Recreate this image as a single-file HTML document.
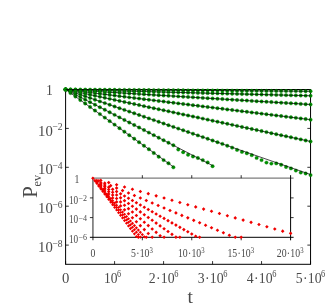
<!DOCTYPE html>
<html><head><meta charset="utf-8"><title>chart</title>
<style>html,body{margin:0;padding:0;background:#fff;width:332px;height:307px;overflow:hidden}body{position:relative;font-family:"Liberation Serif",serif}</style>
</head><body>
<svg width="332" height="307" viewBox="0 0 332 307" style="position:absolute;left:0;top:0;will-change:transform" font-family="Liberation Serif, serif" fill="#4a4a4a">
<rect width="332" height="307" fill="#fff"/>
<rect x="65.6" y="89.5" width="244.95000000000002" height="174.8" fill="none" stroke="#000" stroke-width="1"/>
<path d="M65.6 89.50h3.2M310.55 89.50h-3.2M65.6 128.40h3.2M310.55 128.40h-3.2M65.6 167.30h3.2M310.55 167.30h-3.2M65.6 206.20h3.2M310.55 206.20h-3.2M65.6 245.10h3.2M310.55 245.10h-3.2M65.60 264.3v-3.2M65.60 89.5v3.2M114.59 264.3v-3.2M114.59 89.5v3.2M163.58 264.3v-3.2M163.58 89.5v3.2M212.57 264.3v-3.2M212.57 89.5v3.2M261.56 264.3v-3.2M261.56 89.5v3.2M310.55 264.3v-3.2M310.55 89.5v3.2" stroke="#000" stroke-width="0.8" fill="none"/>
<g fill="#009400" stroke="#007000" stroke-width="0.35"><circle cx="65.60" cy="89.50" r="1.72"/><circle cx="70.50" cy="93.02" r="1.72"/><circle cx="75.40" cy="96.53" r="1.72"/><circle cx="80.30" cy="100.05" r="1.72"/><circle cx="85.20" cy="103.56" r="1.72"/><circle cx="90.09" cy="107.08" r="1.72"/><circle cx="94.99" cy="110.59" r="1.72"/><circle cx="99.89" cy="114.11" r="1.72"/><circle cx="104.79" cy="117.62" r="1.72"/><circle cx="109.69" cy="121.14" r="1.72"/><circle cx="114.59" cy="124.65" r="1.72"/><circle cx="119.49" cy="128.17" r="1.72"/><circle cx="124.39" cy="131.68" r="1.72"/><circle cx="129.29" cy="135.20" r="1.72"/><circle cx="134.19" cy="138.71" r="1.72"/><circle cx="139.08" cy="142.23" r="1.72"/><circle cx="143.98" cy="145.74" r="1.72"/><circle cx="148.88" cy="149.26" r="1.72"/><circle cx="153.78" cy="153.07" r="1.72"/><circle cx="158.68" cy="156.69" r="1.72"/><circle cx="163.58" cy="160.10" r="1.72"/><circle cx="168.48" cy="163.32" r="1.72"/><circle cx="173.38" cy="167.33" r="1.72"/></g>
<path d="M65.60 89.50L173.38 166.83" stroke="#000" stroke-width="0.7" fill="none"/>
<g fill="#009400" stroke="#007000" stroke-width="0.35"><circle cx="65.60" cy="89.50" r="1.72"/><circle cx="70.50" cy="92.04" r="1.72"/><circle cx="75.40" cy="94.57" r="1.72"/><circle cx="80.30" cy="97.11" r="1.72"/><circle cx="85.20" cy="99.64" r="1.72"/><circle cx="90.09" cy="102.18" r="1.72"/><circle cx="94.99" cy="104.72" r="1.72"/><circle cx="99.89" cy="107.25" r="1.72"/><circle cx="104.79" cy="109.79" r="1.72"/><circle cx="109.69" cy="112.33" r="1.72"/><circle cx="114.59" cy="114.86" r="1.72"/><circle cx="119.49" cy="117.40" r="1.72"/><circle cx="124.39" cy="119.93" r="1.72"/><circle cx="129.29" cy="122.47" r="1.72"/><circle cx="134.19" cy="125.01" r="1.72"/><circle cx="139.08" cy="127.54" r="1.72"/><circle cx="143.98" cy="130.08" r="1.72"/><circle cx="148.88" cy="132.62" r="1.72"/><circle cx="153.78" cy="135.15" r="1.72"/><circle cx="158.68" cy="137.69" r="1.72"/><circle cx="163.58" cy="140.22" r="1.72"/><circle cx="168.48" cy="142.76" r="1.72"/><circle cx="173.38" cy="145.30" r="1.72"/><circle cx="178.28" cy="149.53" r="1.72"/><circle cx="183.18" cy="152.17" r="1.72"/><circle cx="188.07" cy="154.81" r="1.72"/><circle cx="192.97" cy="156.44" r="1.72"/><circle cx="197.87" cy="157.98" r="1.72"/><circle cx="202.77" cy="160.11" r="1.72"/><circle cx="207.67" cy="162.45" r="1.72"/><circle cx="212.57" cy="166.19" r="1.72"/></g>
<path d="M65.60 89.50L212.57 165.59" stroke="#000" stroke-width="0.7" fill="none"/>
<g fill="#009400" stroke="#007000" stroke-width="0.35"><circle cx="65.60" cy="89.50" r="1.72"/><circle cx="70.50" cy="91.20" r="1.72"/><circle cx="75.40" cy="92.90" r="1.72"/><circle cx="80.30" cy="94.60" r="1.72"/><circle cx="85.20" cy="96.30" r="1.72"/><circle cx="90.09" cy="98.00" r="1.72"/><circle cx="94.99" cy="99.70" r="1.72"/><circle cx="99.89" cy="101.40" r="1.72"/><circle cx="104.79" cy="103.10" r="1.72"/><circle cx="109.69" cy="104.80" r="1.72"/><circle cx="114.59" cy="106.50" r="1.72"/><circle cx="119.49" cy="108.20" r="1.72"/><circle cx="124.39" cy="109.90" r="1.72"/><circle cx="129.29" cy="111.60" r="1.72"/><circle cx="134.19" cy="113.30" r="1.72"/><circle cx="139.08" cy="115.00" r="1.72"/><circle cx="143.98" cy="116.70" r="1.72"/><circle cx="148.88" cy="118.40" r="1.72"/><circle cx="153.78" cy="120.10" r="1.72"/><circle cx="158.68" cy="121.80" r="1.72"/><circle cx="163.58" cy="123.50" r="1.72"/><circle cx="168.48" cy="125.20" r="1.72"/><circle cx="173.38" cy="126.90" r="1.72"/><circle cx="178.28" cy="128.60" r="1.72"/><circle cx="183.18" cy="130.30" r="1.72"/><circle cx="188.07" cy="132.00" r="1.72"/><circle cx="192.97" cy="133.70" r="1.72"/><circle cx="197.87" cy="135.40" r="1.72"/><circle cx="202.77" cy="137.10" r="1.72"/><circle cx="207.67" cy="138.80" r="1.72"/><circle cx="212.57" cy="140.50" r="1.72"/><circle cx="217.47" cy="142.20" r="1.72"/><circle cx="222.37" cy="143.90" r="1.72"/><circle cx="227.27" cy="145.80" r="1.72"/><circle cx="232.17" cy="147.65" r="1.72"/><circle cx="237.06" cy="149.90" r="1.72"/><circle cx="241.96" cy="151.90" r="1.72"/><circle cx="246.86" cy="153.30" r="1.72"/><circle cx="251.76" cy="155.15" r="1.72"/><circle cx="256.66" cy="157.90" r="1.72"/><circle cx="261.56" cy="160.10" r="1.72"/><circle cx="266.46" cy="162.60" r="1.72"/><circle cx="271.36" cy="163.60" r="1.72"/><circle cx="276.26" cy="163.40" r="1.72"/><circle cx="281.16" cy="164.80" r="1.72"/><circle cx="286.06" cy="167.00" r="1.72"/><circle cx="290.95" cy="168.40" r="1.72"/><circle cx="295.85" cy="170.60" r="1.72"/><circle cx="300.75" cy="172.60" r="1.72"/><circle cx="305.65" cy="173.45" r="1.72"/><circle cx="310.55" cy="175.10" r="1.72"/></g>
<path d="M65.60 89.50L310.55 174.50" stroke="#000" stroke-width="0.7" fill="none"/>
<g fill="#009400" stroke="#007000" stroke-width="0.35"><circle cx="65.60" cy="89.50" r="1.72"/><circle cx="70.50" cy="90.54" r="1.72"/><circle cx="75.40" cy="91.58" r="1.72"/><circle cx="80.30" cy="92.62" r="1.72"/><circle cx="85.20" cy="93.66" r="1.72"/><circle cx="90.09" cy="94.70" r="1.72"/><circle cx="94.99" cy="95.74" r="1.72"/><circle cx="99.89" cy="96.78" r="1.72"/><circle cx="104.79" cy="97.82" r="1.72"/><circle cx="109.69" cy="98.86" r="1.72"/><circle cx="114.59" cy="99.90" r="1.72"/><circle cx="119.49" cy="100.94" r="1.72"/><circle cx="124.39" cy="101.97" r="1.72"/><circle cx="129.29" cy="103.01" r="1.72"/><circle cx="134.19" cy="104.05" r="1.72"/><circle cx="139.08" cy="105.09" r="1.72"/><circle cx="143.98" cy="106.13" r="1.72"/><circle cx="148.88" cy="107.17" r="1.72"/><circle cx="153.78" cy="108.21" r="1.72"/><circle cx="158.68" cy="109.25" r="1.72"/><circle cx="163.58" cy="110.29" r="1.72"/><circle cx="168.48" cy="111.33" r="1.72"/><circle cx="173.38" cy="112.37" r="1.72"/><circle cx="178.28" cy="113.41" r="1.72"/><circle cx="183.18" cy="114.45" r="1.72"/><circle cx="188.07" cy="115.49" r="1.72"/><circle cx="192.97" cy="116.53" r="1.72"/><circle cx="197.87" cy="117.57" r="1.72"/><circle cx="202.77" cy="118.61" r="1.72"/><circle cx="207.67" cy="119.65" r="1.72"/><circle cx="212.57" cy="120.69" r="1.72"/><circle cx="217.47" cy="121.73" r="1.72"/><circle cx="222.37" cy="122.77" r="1.72"/><circle cx="227.27" cy="123.81" r="1.72"/><circle cx="232.17" cy="124.85" r="1.72"/><circle cx="237.06" cy="125.88" r="1.72"/><circle cx="241.96" cy="126.92" r="1.72"/><circle cx="246.86" cy="127.96" r="1.72"/><circle cx="251.76" cy="129.00" r="1.72"/><circle cx="256.66" cy="130.04" r="1.72"/><circle cx="261.56" cy="131.08" r="1.72"/><circle cx="266.46" cy="132.12" r="1.72"/><circle cx="271.36" cy="133.16" r="1.72"/><circle cx="276.26" cy="134.20" r="1.72"/><circle cx="281.16" cy="135.24" r="1.72"/><circle cx="286.06" cy="136.28" r="1.72"/><circle cx="290.95" cy="137.32" r="1.72"/><circle cx="295.85" cy="138.36" r="1.72"/><circle cx="300.75" cy="139.40" r="1.72"/><circle cx="305.65" cy="140.44" r="1.72"/><circle cx="310.55" cy="141.48" r="1.72"/></g>
<path d="M65.60 89.50L310.55 141.48" stroke="#000" stroke-width="0.7" fill="none"/>
<g fill="#009400" stroke="#007000" stroke-width="0.35"><circle cx="65.60" cy="89.50" r="1.72"/><circle cx="70.50" cy="90.10" r="1.72"/><circle cx="75.40" cy="90.71" r="1.72"/><circle cx="80.30" cy="91.31" r="1.72"/><circle cx="85.20" cy="91.91" r="1.72"/><circle cx="90.09" cy="92.52" r="1.72"/><circle cx="94.99" cy="93.12" r="1.72"/><circle cx="99.89" cy="93.72" r="1.72"/><circle cx="104.79" cy="94.33" r="1.72"/><circle cx="109.69" cy="94.93" r="1.72"/><circle cx="114.59" cy="95.54" r="1.72"/><circle cx="119.49" cy="96.14" r="1.72"/><circle cx="124.39" cy="96.74" r="1.72"/><circle cx="129.29" cy="97.35" r="1.72"/><circle cx="134.19" cy="97.95" r="1.72"/><circle cx="139.08" cy="98.55" r="1.72"/><circle cx="143.98" cy="99.16" r="1.72"/><circle cx="148.88" cy="99.76" r="1.72"/><circle cx="153.78" cy="100.36" r="1.72"/><circle cx="158.68" cy="100.97" r="1.72"/><circle cx="163.58" cy="101.57" r="1.72"/><circle cx="168.48" cy="102.17" r="1.72"/><circle cx="173.38" cy="102.78" r="1.72"/><circle cx="178.28" cy="103.38" r="1.72"/><circle cx="183.18" cy="103.99" r="1.72"/><circle cx="188.07" cy="104.59" r="1.72"/><circle cx="192.97" cy="105.19" r="1.72"/><circle cx="197.87" cy="105.80" r="1.72"/><circle cx="202.77" cy="106.40" r="1.72"/><circle cx="207.67" cy="107.00" r="1.72"/><circle cx="212.57" cy="107.61" r="1.72"/><circle cx="217.47" cy="108.21" r="1.72"/><circle cx="222.37" cy="108.81" r="1.72"/><circle cx="227.27" cy="109.42" r="1.72"/><circle cx="232.17" cy="110.02" r="1.72"/><circle cx="237.06" cy="110.62" r="1.72"/><circle cx="241.96" cy="111.23" r="1.72"/><circle cx="246.86" cy="111.83" r="1.72"/><circle cx="251.76" cy="112.44" r="1.72"/><circle cx="256.66" cy="113.04" r="1.72"/><circle cx="261.56" cy="113.64" r="1.72"/><circle cx="266.46" cy="114.25" r="1.72"/><circle cx="271.36" cy="114.85" r="1.72"/><circle cx="276.26" cy="115.45" r="1.72"/><circle cx="281.16" cy="116.06" r="1.72"/><circle cx="286.06" cy="116.66" r="1.72"/><circle cx="290.95" cy="117.26" r="1.72"/><circle cx="295.85" cy="117.87" r="1.72"/><circle cx="300.75" cy="118.47" r="1.72"/><circle cx="305.65" cy="119.07" r="1.72"/><circle cx="310.55" cy="119.68" r="1.72"/></g>
<path d="M65.60 89.50L310.55 119.68" stroke="#000" stroke-width="0.7" fill="none"/>
<g fill="#009400" stroke="#007000" stroke-width="0.35"><circle cx="65.60" cy="89.50" r="1.72"/><circle cx="70.50" cy="89.80" r="1.72"/><circle cx="75.40" cy="90.10" r="1.72"/><circle cx="80.30" cy="90.40" r="1.72"/><circle cx="85.20" cy="90.70" r="1.72"/><circle cx="90.09" cy="91.00" r="1.72"/><circle cx="94.99" cy="91.30" r="1.72"/><circle cx="99.89" cy="91.60" r="1.72"/><circle cx="104.79" cy="91.90" r="1.72"/><circle cx="109.69" cy="92.20" r="1.72"/><circle cx="114.59" cy="92.50" r="1.72"/><circle cx="119.49" cy="92.80" r="1.72"/><circle cx="124.39" cy="93.10" r="1.72"/><circle cx="129.29" cy="93.40" r="1.72"/><circle cx="134.19" cy="93.70" r="1.72"/><circle cx="139.08" cy="94.00" r="1.72"/><circle cx="143.98" cy="94.30" r="1.72"/><circle cx="148.88" cy="94.60" r="1.72"/><circle cx="153.78" cy="94.90" r="1.72"/><circle cx="158.68" cy="95.20" r="1.72"/><circle cx="163.58" cy="95.50" r="1.72"/><circle cx="168.48" cy="95.80" r="1.72"/><circle cx="173.38" cy="96.10" r="1.72"/><circle cx="178.28" cy="96.40" r="1.72"/><circle cx="183.18" cy="96.70" r="1.72"/><circle cx="188.07" cy="97.00" r="1.72"/><circle cx="192.97" cy="97.30" r="1.72"/><circle cx="197.87" cy="97.60" r="1.72"/><circle cx="202.77" cy="97.89" r="1.72"/><circle cx="207.67" cy="98.19" r="1.72"/><circle cx="212.57" cy="98.49" r="1.72"/><circle cx="217.47" cy="98.79" r="1.72"/><circle cx="222.37" cy="99.09" r="1.72"/><circle cx="227.27" cy="99.39" r="1.72"/><circle cx="232.17" cy="99.69" r="1.72"/><circle cx="237.06" cy="99.99" r="1.72"/><circle cx="241.96" cy="100.29" r="1.72"/><circle cx="246.86" cy="100.59" r="1.72"/><circle cx="251.76" cy="100.89" r="1.72"/><circle cx="256.66" cy="101.19" r="1.72"/><circle cx="261.56" cy="101.49" r="1.72"/><circle cx="266.46" cy="101.79" r="1.72"/><circle cx="271.36" cy="102.09" r="1.72"/><circle cx="276.26" cy="102.39" r="1.72"/><circle cx="281.16" cy="102.69" r="1.72"/><circle cx="286.06" cy="102.99" r="1.72"/><circle cx="290.95" cy="103.29" r="1.72"/><circle cx="295.85" cy="103.59" r="1.72"/><circle cx="300.75" cy="103.89" r="1.72"/><circle cx="305.65" cy="104.19" r="1.72"/><circle cx="310.55" cy="104.49" r="1.72"/></g>
<path d="M65.60 89.50L310.55 104.49" stroke="#000" stroke-width="0.7" fill="none"/>
<g fill="#009400" stroke="#007000" stroke-width="0.35"><circle cx="65.60" cy="89.50" r="1.72"/><circle cx="70.50" cy="89.63" r="1.72"/><circle cx="75.40" cy="89.75" r="1.72"/><circle cx="80.30" cy="89.88" r="1.72"/><circle cx="85.20" cy="90.00" r="1.72"/><circle cx="90.09" cy="90.13" r="1.72"/><circle cx="94.99" cy="90.25" r="1.72"/><circle cx="99.89" cy="90.38" r="1.72"/><circle cx="104.79" cy="90.50" r="1.72"/><circle cx="109.69" cy="90.63" r="1.72"/><circle cx="114.59" cy="90.75" r="1.72"/><circle cx="119.49" cy="90.88" r="1.72"/><circle cx="124.39" cy="91.00" r="1.72"/><circle cx="129.29" cy="91.13" r="1.72"/><circle cx="134.19" cy="91.26" r="1.72"/><circle cx="139.08" cy="91.38" r="1.72"/><circle cx="143.98" cy="91.51" r="1.72"/><circle cx="148.88" cy="91.63" r="1.72"/><circle cx="153.78" cy="91.76" r="1.72"/><circle cx="158.68" cy="91.88" r="1.72"/><circle cx="163.58" cy="92.01" r="1.72"/><circle cx="168.48" cy="92.13" r="1.72"/><circle cx="173.38" cy="92.26" r="1.72"/><circle cx="178.28" cy="92.38" r="1.72"/><circle cx="183.18" cy="92.51" r="1.72"/><circle cx="188.07" cy="92.64" r="1.72"/><circle cx="192.97" cy="92.76" r="1.72"/><circle cx="197.87" cy="92.89" r="1.72"/><circle cx="202.77" cy="93.01" r="1.72"/><circle cx="207.67" cy="93.14" r="1.72"/><circle cx="212.57" cy="93.26" r="1.72"/><circle cx="217.47" cy="93.39" r="1.72"/><circle cx="222.37" cy="93.51" r="1.72"/><circle cx="227.27" cy="93.64" r="1.72"/><circle cx="232.17" cy="93.76" r="1.72"/><circle cx="237.06" cy="93.89" r="1.72"/><circle cx="241.96" cy="94.01" r="1.72"/><circle cx="246.86" cy="94.14" r="1.72"/><circle cx="251.76" cy="94.27" r="1.72"/><circle cx="256.66" cy="94.39" r="1.72"/><circle cx="261.56" cy="94.52" r="1.72"/><circle cx="266.46" cy="94.64" r="1.72"/><circle cx="271.36" cy="94.77" r="1.72"/><circle cx="276.26" cy="94.89" r="1.72"/><circle cx="281.16" cy="95.02" r="1.72"/><circle cx="286.06" cy="95.14" r="1.72"/><circle cx="290.95" cy="95.27" r="1.72"/><circle cx="295.85" cy="95.39" r="1.72"/><circle cx="300.75" cy="95.52" r="1.72"/><circle cx="305.65" cy="95.65" r="1.72"/><circle cx="310.55" cy="95.77" r="1.72"/></g>
<path d="M65.60 89.50L310.55 95.77" stroke="#000" stroke-width="0.7" fill="none"/>
<g fill="#009400" stroke="#007000" stroke-width="0.35"><circle cx="65.60" cy="89.50" r="1.72"/><circle cx="70.50" cy="89.53" r="1.72"/><circle cx="75.40" cy="89.57" r="1.72"/><circle cx="80.30" cy="89.60" r="1.72"/><circle cx="85.20" cy="89.64" r="1.72"/><circle cx="90.09" cy="89.67" r="1.72"/><circle cx="94.99" cy="89.71" r="1.72"/><circle cx="99.89" cy="89.74" r="1.72"/><circle cx="104.79" cy="89.77" r="1.72"/><circle cx="109.69" cy="89.81" r="1.72"/><circle cx="114.59" cy="89.84" r="1.72"/><circle cx="119.49" cy="89.88" r="1.72"/><circle cx="124.39" cy="89.91" r="1.72"/><circle cx="129.29" cy="89.95" r="1.72"/><circle cx="134.19" cy="89.98" r="1.72"/><circle cx="139.08" cy="90.01" r="1.72"/><circle cx="143.98" cy="90.05" r="1.72"/><circle cx="148.88" cy="90.08" r="1.72"/><circle cx="153.78" cy="90.12" r="1.72"/><circle cx="158.68" cy="90.15" r="1.72"/><circle cx="163.58" cy="90.19" r="1.72"/><circle cx="168.48" cy="90.22" r="1.72"/><circle cx="173.38" cy="90.25" r="1.72"/><circle cx="178.28" cy="90.29" r="1.72"/><circle cx="183.18" cy="90.32" r="1.72"/><circle cx="188.07" cy="90.36" r="1.72"/><circle cx="192.97" cy="90.39" r="1.72"/><circle cx="197.87" cy="90.43" r="1.72"/><circle cx="202.77" cy="90.46" r="1.72"/><circle cx="207.67" cy="90.49" r="1.72"/><circle cx="212.57" cy="90.53" r="1.72"/><circle cx="217.47" cy="90.56" r="1.72"/><circle cx="222.37" cy="90.60" r="1.72"/><circle cx="227.27" cy="90.63" r="1.72"/><circle cx="232.17" cy="90.67" r="1.72"/><circle cx="237.06" cy="90.70" r="1.72"/><circle cx="241.96" cy="90.73" r="1.72"/><circle cx="246.86" cy="90.77" r="1.72"/><circle cx="251.76" cy="90.80" r="1.72"/><circle cx="256.66" cy="90.84" r="1.72"/><circle cx="261.56" cy="90.87" r="1.72"/><circle cx="266.46" cy="90.91" r="1.72"/><circle cx="271.36" cy="90.94" r="1.72"/><circle cx="276.26" cy="90.97" r="1.72"/><circle cx="281.16" cy="91.01" r="1.72"/><circle cx="286.06" cy="91.04" r="1.72"/><circle cx="290.95" cy="91.08" r="1.72"/><circle cx="295.85" cy="91.11" r="1.72"/><circle cx="300.75" cy="91.15" r="1.72"/><circle cx="305.65" cy="91.18" r="1.72"/><circle cx="310.55" cy="91.21" r="1.72"/></g>
<path d="M65.60 89.50L310.55 91.21" stroke="#000" stroke-width="0.7" fill="none"/>
<text transform="translate(52.80 95.00) scale(0.96 1)" font-size="14.2" text-anchor="end">1</text>
<text transform="translate(62.60 135.50) scale(0.96 1)" font-size="15.3" text-anchor="end">10<tspan font-size="10.0" dy="-5.6" dx="-0.4">−2</tspan></text>
<text transform="translate(62.60 174.40) scale(0.96 1)" font-size="15.3" text-anchor="end">10<tspan font-size="10.0" dy="-5.6" dx="-0.4">−4</tspan></text>
<text transform="translate(62.60 213.30) scale(0.96 1)" font-size="15.3" text-anchor="end">10<tspan font-size="10.0" dy="-5.6" dx="-0.4">−6</tspan></text>
<text transform="translate(62.60 252.20) scale(0.96 1)" font-size="15.3" text-anchor="end">10<tspan font-size="10.0" dy="-5.6" dx="-0.4">−8</tspan></text>
<text transform="translate(65.60 282.90) scale(0.96 1)" font-size="15.3" text-anchor="middle">0</text>
<text transform="translate(112.59 282.90) scale(0.88 1)" font-size="15.3" text-anchor="middle">10<tspan font-size="9.3" dy="-5.9" dx="-0.4">6</tspan></text>
<text transform="translate(163.58 282.90) scale(0.9 1)" font-size="15.3" text-anchor="middle">2<tspan dx="0.3">·</tspan><tspan dx="0.3">10</tspan><tspan font-size="9.3" dy="-5.9" dx="-0.5">6</tspan></text>
<text transform="translate(212.57 282.90) scale(0.9 1)" font-size="15.3" text-anchor="middle">3<tspan dx="0.3">·</tspan><tspan dx="0.3">10</tspan><tspan font-size="9.3" dy="-5.9" dx="-0.5">6</tspan></text>
<text transform="translate(261.56 282.90) scale(0.9 1)" font-size="15.3" text-anchor="middle">4<tspan dx="0.3">·</tspan><tspan dx="0.3">10</tspan><tspan font-size="9.3" dy="-5.9" dx="-0.5">6</tspan></text>
<text transform="translate(310.55 282.90) scale(0.9 1)" font-size="15.3" text-anchor="middle">5<tspan dx="0.3">·</tspan><tspan dx="0.3">10</tspan><tspan font-size="9.3" dy="-5.9" dx="-0.5">6</tspan></text>
<text x="190.3" y="303.2" font-size="19.5" text-anchor="middle">t</text>
<g transform="translate(37.1,198.1) rotate(-90)"><text x="0" y="0" font-size="21.3">P</text><text transform="translate(11.7 4.0) scale(0.9 1)" font-size="13.5">ev</text></g>
<rect x="92.9" y="178.2" width="197.70000000000002" height="59.10000000000002" fill="#fff" stroke="none"/>
<path d="M92.9 240.3V178.2" stroke="#7d7d7d" stroke-width="1.7" fill="none"/>
<path d="M92.10000000000001 178.2H293.6" stroke="#7d7d7d" stroke-width="1.2" fill="none"/>
<path d="M290.6 175.2V240.3M89.9 237.3H293.6" stroke="#000" stroke-width="1" fill="none"/>
<path d="M92.9 197.90h-3M290.6 197.90h3M92.9 217.60h-3M290.6 217.60h3M142.33 237.3v3M142.33 178.2v-3M191.75 237.3v3M191.75 178.2v-3M241.18 237.3v3M241.18 178.2v-3" stroke="#000" stroke-width="0.8" fill="none"/>
<path d="M92.90 176.40l1.8 1.8l-1.8 1.8l-1.8 -1.8zM100.81 178.61l1.8 1.8l-1.8 1.8l-1.8 -1.8zM108.72 180.81l1.8 1.8l-1.8 1.8l-1.8 -1.8zM116.62 183.02l1.8 1.8l-1.8 1.8l-1.8 -1.8zM124.53 185.23l1.8 1.8l-1.8 1.8l-1.8 -1.8zM132.44 187.43l1.8 1.8l-1.8 1.8l-1.8 -1.8zM140.35 189.64l1.8 1.8l-1.8 1.8l-1.8 -1.8zM148.26 191.84l1.8 1.8l-1.8 1.8l-1.8 -1.8zM156.16 194.05l1.8 1.8l-1.8 1.8l-1.8 -1.8zM164.07 196.26l1.8 1.8l-1.8 1.8l-1.8 -1.8zM171.98 198.46l1.8 1.8l-1.8 1.8l-1.8 -1.8zM179.89 200.67l1.8 1.8l-1.8 1.8l-1.8 -1.8zM187.80 202.88l1.8 1.8l-1.8 1.8l-1.8 -1.8zM195.70 205.08l1.8 1.8l-1.8 1.8l-1.8 -1.8zM203.61 207.29l1.8 1.8l-1.8 1.8l-1.8 -1.8zM211.52 209.49l1.8 1.8l-1.8 1.8l-1.8 -1.8zM219.43 211.70l1.8 1.8l-1.8 1.8l-1.8 -1.8zM227.34 213.91l1.8 1.8l-1.8 1.8l-1.8 -1.8zM235.24 216.11l1.8 1.8l-1.8 1.8l-1.8 -1.8zM243.15 218.32l1.8 1.8l-1.8 1.8l-1.8 -1.8zM251.06 220.53l1.8 1.8l-1.8 1.8l-1.8 -1.8zM258.97 222.73l1.8 1.8l-1.8 1.8l-1.8 -1.8zM266.88 224.94l1.8 1.8l-1.8 1.8l-1.8 -1.8zM274.78 227.15l1.8 1.8l-1.8 1.8l-1.8 -1.8zM282.69 229.35l1.8 1.8l-1.8 1.8l-1.8 -1.8zM290.60 231.56l1.8 1.8l-1.8 1.8l-1.8 -1.8zM92.90 176.40l1.8 1.8l-1.8 1.8l-1.8 -1.8zM98.83 178.88l1.8 1.8l-1.8 1.8l-1.8 -1.8zM104.76 181.36l1.8 1.8l-1.8 1.8l-1.8 -1.8zM110.69 183.84l1.8 1.8l-1.8 1.8l-1.8 -1.8zM116.62 186.32l1.8 1.8l-1.8 1.8l-1.8 -1.8zM122.56 188.80l1.8 1.8l-1.8 1.8l-1.8 -1.8zM128.49 191.27l1.8 1.8l-1.8 1.8l-1.8 -1.8zM134.42 193.75l1.8 1.8l-1.8 1.8l-1.8 -1.8zM140.35 196.23l1.8 1.8l-1.8 1.8l-1.8 -1.8zM146.28 198.71l1.8 1.8l-1.8 1.8l-1.8 -1.8zM152.21 201.19l1.8 1.8l-1.8 1.8l-1.8 -1.8zM158.14 203.67l1.8 1.8l-1.8 1.8l-1.8 -1.8zM164.07 206.15l1.8 1.8l-1.8 1.8l-1.8 -1.8zM170.00 208.63l1.8 1.8l-1.8 1.8l-1.8 -1.8zM175.93 211.11l1.8 1.8l-1.8 1.8l-1.8 -1.8zM181.87 213.59l1.8 1.8l-1.8 1.8l-1.8 -1.8zM187.80 216.07l1.8 1.8l-1.8 1.8l-1.8 -1.8zM193.73 218.55l1.8 1.8l-1.8 1.8l-1.8 -1.8zM199.66 221.02l1.8 1.8l-1.8 1.8l-1.8 -1.8zM205.59 223.50l1.8 1.8l-1.8 1.8l-1.8 -1.8zM211.52 225.98l1.8 1.8l-1.8 1.8l-1.8 -1.8zM217.45 228.46l1.8 1.8l-1.8 1.8l-1.8 -1.8zM223.38 230.94l1.8 1.8l-1.8 1.8l-1.8 -1.8zM229.31 233.42l1.8 1.8l-1.8 1.8l-1.8 -1.8zM235.24 235.50l1.8 1.8l-1.8 1.8l-1.8 -1.8zM241.18 235.50l1.8 1.8l-1.8 1.8l-1.8 -1.8zM92.90 176.40l1.8 1.8l-1.8 1.8l-1.8 -1.8zM96.85 178.63l1.8 1.8l-1.8 1.8l-1.8 -1.8zM100.81 180.87l1.8 1.8l-1.8 1.8l-1.8 -1.8zM104.76 183.10l1.8 1.8l-1.8 1.8l-1.8 -1.8zM108.72 185.34l1.8 1.8l-1.8 1.8l-1.8 -1.8zM112.67 187.57l1.8 1.8l-1.8 1.8l-1.8 -1.8zM116.62 189.80l1.8 1.8l-1.8 1.8l-1.8 -1.8zM120.58 192.04l1.8 1.8l-1.8 1.8l-1.8 -1.8zM124.53 194.27l1.8 1.8l-1.8 1.8l-1.8 -1.8zM128.49 196.51l1.8 1.8l-1.8 1.8l-1.8 -1.8zM132.44 198.74l1.8 1.8l-1.8 1.8l-1.8 -1.8zM136.39 200.97l1.8 1.8l-1.8 1.8l-1.8 -1.8zM140.35 203.21l1.8 1.8l-1.8 1.8l-1.8 -1.8zM144.30 205.44l1.8 1.8l-1.8 1.8l-1.8 -1.8zM148.26 207.68l1.8 1.8l-1.8 1.8l-1.8 -1.8zM152.21 209.91l1.8 1.8l-1.8 1.8l-1.8 -1.8zM156.16 212.14l1.8 1.8l-1.8 1.8l-1.8 -1.8zM160.12 214.38l1.8 1.8l-1.8 1.8l-1.8 -1.8zM164.07 216.61l1.8 1.8l-1.8 1.8l-1.8 -1.8zM168.03 218.85l1.8 1.8l-1.8 1.8l-1.8 -1.8zM171.98 221.08l1.8 1.8l-1.8 1.8l-1.8 -1.8zM175.93 223.31l1.8 1.8l-1.8 1.8l-1.8 -1.8zM179.89 225.55l1.8 1.8l-1.8 1.8l-1.8 -1.8zM183.84 227.78l1.8 1.8l-1.8 1.8l-1.8 -1.8zM187.80 230.02l1.8 1.8l-1.8 1.8l-1.8 -1.8zM191.75 232.25l1.8 1.8l-1.8 1.8l-1.8 -1.8zM195.70 234.48l1.8 1.8l-1.8 1.8l-1.8 -1.8zM199.66 235.50l1.8 1.8l-1.8 1.8l-1.8 -1.8zM92.90 176.40l1.8 1.8l-1.8 1.8l-1.8 -1.8zM96.85 179.21l1.8 1.8l-1.8 1.8l-1.8 -1.8zM100.81 182.01l1.8 1.8l-1.8 1.8l-1.8 -1.8zM104.76 184.82l1.8 1.8l-1.8 1.8l-1.8 -1.8zM108.72 187.63l1.8 1.8l-1.8 1.8l-1.8 -1.8zM112.67 190.44l1.8 1.8l-1.8 1.8l-1.8 -1.8zM116.62 193.24l1.8 1.8l-1.8 1.8l-1.8 -1.8zM120.58 196.05l1.8 1.8l-1.8 1.8l-1.8 -1.8zM124.53 198.86l1.8 1.8l-1.8 1.8l-1.8 -1.8zM128.49 201.67l1.8 1.8l-1.8 1.8l-1.8 -1.8zM132.44 204.47l1.8 1.8l-1.8 1.8l-1.8 -1.8zM136.39 207.28l1.8 1.8l-1.8 1.8l-1.8 -1.8zM140.35 210.09l1.8 1.8l-1.8 1.8l-1.8 -1.8zM144.30 212.90l1.8 1.8l-1.8 1.8l-1.8 -1.8zM148.26 215.70l1.8 1.8l-1.8 1.8l-1.8 -1.8zM152.21 218.51l1.8 1.8l-1.8 1.8l-1.8 -1.8zM156.16 221.32l1.8 1.8l-1.8 1.8l-1.8 -1.8zM160.12 224.12l1.8 1.8l-1.8 1.8l-1.8 -1.8zM164.07 226.93l1.8 1.8l-1.8 1.8l-1.8 -1.8zM168.03 229.74l1.8 1.8l-1.8 1.8l-1.8 -1.8zM171.98 232.55l1.8 1.8l-1.8 1.8l-1.8 -1.8zM175.93 235.35l1.8 1.8l-1.8 1.8l-1.8 -1.8zM179.89 235.50l1.8 1.8l-1.8 1.8l-1.8 -1.8zM92.90 176.40l1.8 1.8l-1.8 1.8l-1.8 -1.8zM96.85 179.78l1.8 1.8l-1.8 1.8l-1.8 -1.8zM100.81 183.17l1.8 1.8l-1.8 1.8l-1.8 -1.8zM104.76 186.55l1.8 1.8l-1.8 1.8l-1.8 -1.8zM108.72 189.94l1.8 1.8l-1.8 1.8l-1.8 -1.8zM112.67 193.32l1.8 1.8l-1.8 1.8l-1.8 -1.8zM116.62 196.71l1.8 1.8l-1.8 1.8l-1.8 -1.8zM120.58 200.09l1.8 1.8l-1.8 1.8l-1.8 -1.8zM124.53 203.48l1.8 1.8l-1.8 1.8l-1.8 -1.8zM128.49 206.86l1.8 1.8l-1.8 1.8l-1.8 -1.8zM132.44 210.25l1.8 1.8l-1.8 1.8l-1.8 -1.8zM136.39 213.63l1.8 1.8l-1.8 1.8l-1.8 -1.8zM140.35 217.02l1.8 1.8l-1.8 1.8l-1.8 -1.8zM144.30 220.40l1.8 1.8l-1.8 1.8l-1.8 -1.8zM148.26 223.78l1.8 1.8l-1.8 1.8l-1.8 -1.8zM152.21 227.17l1.8 1.8l-1.8 1.8l-1.8 -1.8zM156.16 230.55l1.8 1.8l-1.8 1.8l-1.8 -1.8zM160.12 233.94l1.8 1.8l-1.8 1.8l-1.8 -1.8zM164.07 235.50l1.8 1.8l-1.8 1.8l-1.8 -1.8zM92.90 176.40l1.8 1.8l-1.8 1.8l-1.8 -1.8zM96.85 180.35l1.8 1.8l-1.8 1.8l-1.8 -1.8zM100.81 184.31l1.8 1.8l-1.8 1.8l-1.8 -1.8zM104.76 188.26l1.8 1.8l-1.8 1.8l-1.8 -1.8zM108.72 192.22l1.8 1.8l-1.8 1.8l-1.8 -1.8zM112.67 196.17l1.8 1.8l-1.8 1.8l-1.8 -1.8zM116.62 200.12l1.8 1.8l-1.8 1.8l-1.8 -1.8zM120.58 204.08l1.8 1.8l-1.8 1.8l-1.8 -1.8zM124.53 208.03l1.8 1.8l-1.8 1.8l-1.8 -1.8zM128.49 211.99l1.8 1.8l-1.8 1.8l-1.8 -1.8zM132.44 215.94l1.8 1.8l-1.8 1.8l-1.8 -1.8zM136.39 219.89l1.8 1.8l-1.8 1.8l-1.8 -1.8zM140.35 223.85l1.8 1.8l-1.8 1.8l-1.8 -1.8zM144.30 227.80l1.8 1.8l-1.8 1.8l-1.8 -1.8zM148.26 231.76l1.8 1.8l-1.8 1.8l-1.8 -1.8zM152.21 235.50l1.8 1.8l-1.8 1.8l-1.8 -1.8zM92.90 176.60l1.6 1.6l-1.6 1.6l-1.6 -1.6zM94.88 178.85l1.6 1.6l-1.6 1.6l-1.6 -1.6zM96.85 181.11l1.6 1.6l-1.6 1.6l-1.6 -1.6zM98.83 183.36l1.6 1.6l-1.6 1.6l-1.6 -1.6zM100.81 185.62l1.6 1.6l-1.6 1.6l-1.6 -1.6zM102.79 187.87l1.6 1.6l-1.6 1.6l-1.6 -1.6zM104.76 190.12l1.6 1.6l-1.6 1.6l-1.6 -1.6zM106.74 192.38l1.6 1.6l-1.6 1.6l-1.6 -1.6zM108.72 194.63l1.6 1.6l-1.6 1.6l-1.6 -1.6zM110.69 196.88l1.6 1.6l-1.6 1.6l-1.6 -1.6zM112.67 199.14l1.6 1.6l-1.6 1.6l-1.6 -1.6zM114.65 201.39l1.6 1.6l-1.6 1.6l-1.6 -1.6zM116.62 203.65l1.6 1.6l-1.6 1.6l-1.6 -1.6zM118.60 205.90l1.6 1.6l-1.6 1.6l-1.6 -1.6zM120.58 208.15l1.6 1.6l-1.6 1.6l-1.6 -1.6zM122.56 210.41l1.6 1.6l-1.6 1.6l-1.6 -1.6zM124.53 212.66l1.6 1.6l-1.6 1.6l-1.6 -1.6zM126.51 214.91l1.6 1.6l-1.6 1.6l-1.6 -1.6zM128.49 217.17l1.6 1.6l-1.6 1.6l-1.6 -1.6zM130.46 219.42l1.6 1.6l-1.6 1.6l-1.6 -1.6zM132.44 221.68l1.6 1.6l-1.6 1.6l-1.6 -1.6zM134.42 223.93l1.6 1.6l-1.6 1.6l-1.6 -1.6zM136.39 226.18l1.6 1.6l-1.6 1.6l-1.6 -1.6zM138.37 228.44l1.6 1.6l-1.6 1.6l-1.6 -1.6zM140.35 230.69l1.6 1.6l-1.6 1.6l-1.6 -1.6zM142.33 232.94l1.6 1.6l-1.6 1.6l-1.6 -1.6zM144.30 235.20l1.6 1.6l-1.6 1.6l-1.6 -1.6zM146.28 235.50l1.8 1.8l-1.8 1.8l-1.8 -1.8zM92.90 176.60l1.6 1.6l-1.6 1.6l-1.6 -1.6zM94.88 179.05l1.6 1.6l-1.6 1.6l-1.6 -1.6zM96.85 181.50l1.6 1.6l-1.6 1.6l-1.6 -1.6zM98.83 183.95l1.6 1.6l-1.6 1.6l-1.6 -1.6zM100.81 186.41l1.6 1.6l-1.6 1.6l-1.6 -1.6zM102.79 188.86l1.6 1.6l-1.6 1.6l-1.6 -1.6zM104.76 191.31l1.6 1.6l-1.6 1.6l-1.6 -1.6zM106.74 193.76l1.6 1.6l-1.6 1.6l-1.6 -1.6zM108.72 196.21l1.6 1.6l-1.6 1.6l-1.6 -1.6zM110.69 198.66l1.6 1.6l-1.6 1.6l-1.6 -1.6zM112.67 201.11l1.6 1.6l-1.6 1.6l-1.6 -1.6zM114.65 203.57l1.6 1.6l-1.6 1.6l-1.6 -1.6zM116.62 206.02l1.6 1.6l-1.6 1.6l-1.6 -1.6zM118.60 208.47l1.6 1.6l-1.6 1.6l-1.6 -1.6zM120.58 210.92l1.6 1.6l-1.6 1.6l-1.6 -1.6zM122.56 213.37l1.6 1.6l-1.6 1.6l-1.6 -1.6zM124.53 215.82l1.6 1.6l-1.6 1.6l-1.6 -1.6zM126.51 218.28l1.6 1.6l-1.6 1.6l-1.6 -1.6zM128.49 220.73l1.6 1.6l-1.6 1.6l-1.6 -1.6zM130.46 223.18l1.6 1.6l-1.6 1.6l-1.6 -1.6zM132.44 225.63l1.6 1.6l-1.6 1.6l-1.6 -1.6zM134.42 228.08l1.6 1.6l-1.6 1.6l-1.6 -1.6zM136.39 230.53l1.6 1.6l-1.6 1.6l-1.6 -1.6zM138.37 232.98l1.6 1.6l-1.6 1.6l-1.6 -1.6zM140.35 235.44l1.6 1.6l-1.6 1.6l-1.6 -1.6zM92.90 176.60l1.6 1.6l-1.6 1.6l-1.6 -1.6zM94.88 179.25l1.6 1.6l-1.6 1.6l-1.6 -1.6zM96.85 181.90l1.6 1.6l-1.6 1.6l-1.6 -1.6zM98.83 184.55l1.6 1.6l-1.6 1.6l-1.6 -1.6zM100.81 187.20l1.6 1.6l-1.6 1.6l-1.6 -1.6zM102.79 189.85l1.6 1.6l-1.6 1.6l-1.6 -1.6zM104.76 192.50l1.6 1.6l-1.6 1.6l-1.6 -1.6zM106.74 195.14l1.6 1.6l-1.6 1.6l-1.6 -1.6zM108.72 197.79l1.6 1.6l-1.6 1.6l-1.6 -1.6zM110.69 200.44l1.6 1.6l-1.6 1.6l-1.6 -1.6zM112.67 203.09l1.6 1.6l-1.6 1.6l-1.6 -1.6zM114.65 205.74l1.6 1.6l-1.6 1.6l-1.6 -1.6zM116.62 208.39l1.6 1.6l-1.6 1.6l-1.6 -1.6zM118.60 211.04l1.6 1.6l-1.6 1.6l-1.6 -1.6zM120.58 213.69l1.6 1.6l-1.6 1.6l-1.6 -1.6zM122.56 216.34l1.6 1.6l-1.6 1.6l-1.6 -1.6zM124.53 218.99l1.6 1.6l-1.6 1.6l-1.6 -1.6zM126.51 221.64l1.6 1.6l-1.6 1.6l-1.6 -1.6zM128.49 224.29l1.6 1.6l-1.6 1.6l-1.6 -1.6zM130.46 226.93l1.6 1.6l-1.6 1.6l-1.6 -1.6zM132.44 229.58l1.6 1.6l-1.6 1.6l-1.6 -1.6zM134.42 232.23l1.6 1.6l-1.6 1.6l-1.6 -1.6zM136.39 234.88l1.6 1.6l-1.6 1.6l-1.6 -1.6zM138.37 235.50l1.8 1.8l-1.8 1.8l-1.8 -1.8z" fill="#f00000" stroke="none"/>
<text transform="translate(79.40 183.00) scale(0.85 1)" font-size="11.5" text-anchor="end">1</text>
<text transform="translate(78.20 203.50) scale(0.8 1)" font-size="11.5" text-anchor="end">10</text>
<text transform="translate(78.60 200.90) scale(1.0 1)" font-size="8.0" text-anchor="start">−2</text>
<text transform="translate(78.20 223.20) scale(0.8 1)" font-size="11.5" text-anchor="end">10</text>
<text transform="translate(78.60 220.60) scale(1.0 1)" font-size="8.0" text-anchor="start">−4</text>
<text transform="translate(78.20 242.90) scale(0.8 1)" font-size="11.5" text-anchor="end">10</text>
<text transform="translate(78.60 240.30) scale(1.0 1)" font-size="8.0" text-anchor="start">−6</text>
<text transform="translate(92.90 257.40) scale(0.85 1)" font-size="11.5" text-anchor="middle">0</text>
<text transform="translate(141.93 257.40) scale(0.85 1)" font-size="11.5" text-anchor="middle">5<tspan dx="0.3">·</tspan><tspan dx="0.3">10</tspan><tspan font-size="8.0" dy="-4.2" dx="0.1">3</tspan></text>
<text transform="translate(191.35 257.40) scale(0.85 1)" font-size="11.5" text-anchor="middle">10<tspan dx="0.3">·</tspan><tspan dx="0.3">10</tspan><tspan font-size="8.0" dy="-4.2" dx="0.1">3</tspan></text>
<text transform="translate(240.78 257.40) scale(0.85 1)" font-size="11.5" text-anchor="middle">15<tspan dx="0.3">·</tspan><tspan dx="0.3">10</tspan><tspan font-size="8.0" dy="-4.2" dx="0.1">3</tspan></text>
<text transform="translate(290.20 257.40) scale(0.85 1)" font-size="11.5" text-anchor="middle">20<tspan dx="0.3">·</tspan><tspan dx="0.3">10</tspan><tspan font-size="8.0" dy="-4.2" dx="0.1">3</tspan></text>
</svg>
</body></html>
